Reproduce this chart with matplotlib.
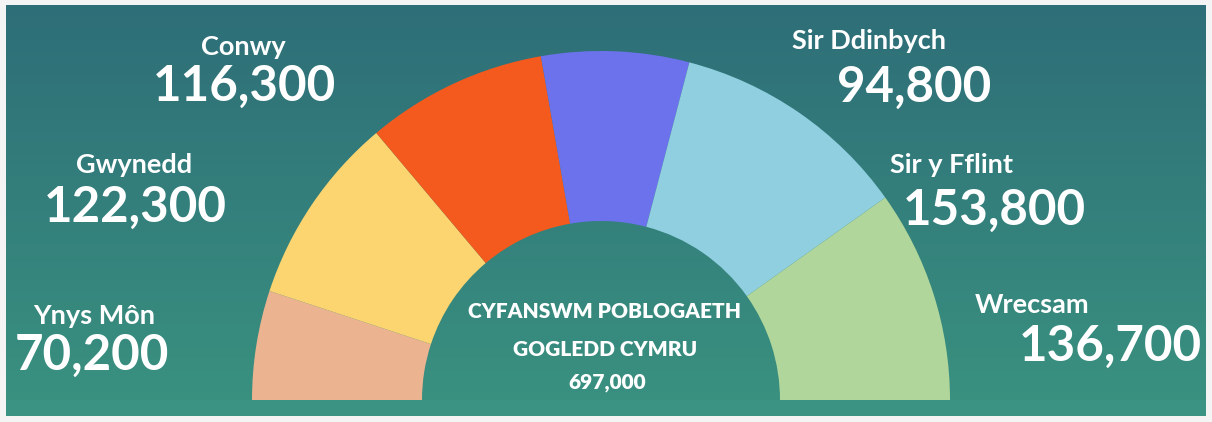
import numpy as np
import matplotlib.pyplot as plt
from matplotlib.patches import Rectangle

# Data
regions = ["Ynys Môn", "Gwynedd", "Conwy", "Sir Ddinbych", "Sir y Fflint", "Wrecsam"]
population = [70200, 122300, 116300, 94800, 153800, 136700]
value_labels = ["70,200", "122,300", "116,300", "94,800", "153,800", "136,700"]
colors = ["#ecb390", "#fcd470", "#f45a1e", "#6b72ec", "#8fcfe0", "#b0d69b"]
total_title = ["CYFANSWM POBLOGAETH", "GOGLEDD CYMRU"]
total_value = "697,000"

plt.rcParams['font.family'] = ['Lato', 'DejaVu Sans']

W, H = 1212, 422
fig = plt.figure(figsize=(W / 100, H / 100), dpi=100)
fig.patch.set_facecolor("#f4f4f4")
ax = fig.add_axes([0, 0, 1, 1])


def py(y):
    # pixel row (from top) -> data y
    return H - y


# teal gradient panel
top = np.array([46, 110, 120]) / 255
bot = np.array([58, 146, 128]) / 255
t = np.linspace(0, 1, 256)[:, None]
grad = (top[None, :] * (1 - t) + bot[None, :] * t)[:, None, :]
ax.imshow(grad, extent=[6, 1206, py(416), py(5)], aspect='auto', zorder=0)
ax.add_patch(Rectangle((6, py(416)), 1200, 16, color="#3b9483", lw=0, zorder=1))

# half donut: add the sum as an invisible bottom half
wedges, _ = ax.pie(population + [sum(population)], colors=colors + ["white"],
                   startangle=180, counterclock=False, radius=349,
                   center=(601, py(400)),
                   wedgeprops=dict(width=170, linewidth=0))
wedges[-1].set_visible(False)
for w in wedges:
    w.set_zorder(2)

ax.set_xlim(0, W)
ax.set_ylim(0, H)
ax.set_aspect('equal')
ax.axis('off')

# label positions (name centre, value centre) in pixels
name_pos = [(94, 316), (134, 165), (243, 47), (869, 41), (952, 165), (1032, 305)]
value_pos = [(92, 355), (135, 207), (244, 86), (914, 87), (994, 210), (1110, 346)]

for name, val, (nx, ny), (vx, vy) in zip(regions, value_labels, name_pos, value_pos):
    ax.text(nx, py(ny), name, color="white", fontsize=19.5, fontweight='bold',
            ha='center', va='center', zorder=3)
    ax.text(vx, py(vy), val, color="white", fontsize=35.5, fontweight='bold',
            ha='center', va='center', zorder=3)

ax.text(605, py(312), total_title[0], color="white", fontsize=15,
        fontweight='heavy', ha='center', va='center', zorder=3)
ax.text(605, py(349), total_title[1], color="white", fontsize=15,
        fontweight='heavy', ha='center', va='center', zorder=3)
ax.text(607, py(382), total_value, color="white", fontsize=15,
        fontweight='heavy', ha='center', va='center', zorder=3)

fig.savefig("out.png", dpi=100, facecolor=fig.get_facecolor())
